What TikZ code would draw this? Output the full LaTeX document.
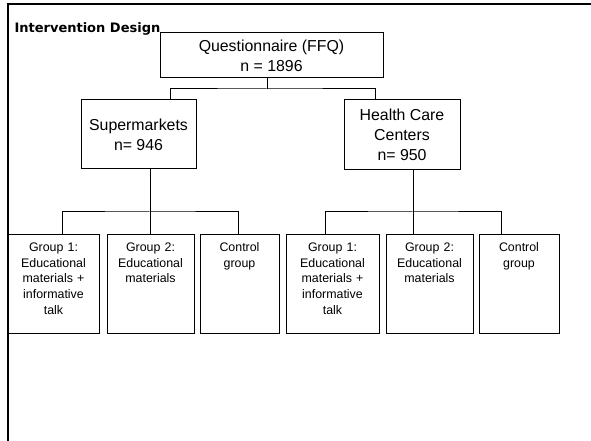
\documentclass[tikz,border=0pt]{standalone}
\usepackage{fontspec}
\setmainfont{Liberation Sans}
\newfontfamily\headfont{DejaVu Sans}

\tikzset{every picture/.style={line width=0.75pt}}
\tikzset{
  lvlbox/.style={draw, align=center, inner sep=0pt, font=\fontsize{11.9}{15}\selectfont},
  grpbox/.style={draw, anchor=north, align=center, inner sep=0pt, font=\fontsize{9.3}{11.8}\selectfont, text height=12.75pt, text depth=61.5pt},
}

\begin{document}
\begin{tikzpicture}[x=0.75pt,y=0.75pt,yscale=-1,xscale=1]
\useasboundingbox (0,0) rectangle (591,441);

%Frame
\draw [line width=1.5pt] (591,4.5) -- (7.5,4.5) -- (7.5,441) ;

%Flowchart: Process
\node [lvlbox, minimum width=167.25pt, minimum height=33.75pt] (ffq) at (271.5,55.5) {Questionnaire (FFQ)\\n = 1896};
%Flowchart: Process
\node [lvlbox, minimum width=86.25pt, minimum height=51.75pt] (sup) at (138.5,134.5) {Supermarkets\\n= 946};
%Flowchart: Process
\node [lvlbox, minimum width=87pt, minimum height=52.5pt] (hcc) at (402,135) {Health Care\\Centers\\n= 950};

%Flowchart: Process
\node [grpbox, text width=68.25pt] (sg1) at (53.5,234) {Group 1:\\Educational\\materials +\\informative\\talk};
\node [grpbox, text width=65.25pt] (sg2) at (150.5,234) {Group 2:\\Educational\\materials};
\node [grpbox, text width=59.25pt] (sg3) at (239.5,234) {Control\\group};
%Flowchart: Process
\node [grpbox, text width=69.75pt] (hg1) at (332.5,234) {Group 1:\\Educational\\materials +\\informative\\talk};
\node [grpbox, text width=65.25pt] (hg2) at (429.5,234) {Group 2:\\Educational\\materials};
\node [grpbox, text width=60pt] (hg3) at (519,234) {Control\\group};

%Connectors
\coordinate (jtop) at (267,89);
\coordinate (jsup) at (150,212);
\coordinate (jhcc) at (413,212);
\draw (ffq.south -| jtop) -- (jtop);
\draw (sup.north -| 170,0) |- (jtop) -| (hcc.north -| 375,0);
\draw (sup.south -| jsup) -- (jsup);
\draw (sg1.north -| 62,0) |- (jsup) -| (sg3.north -| 238,0);
\draw (sg2.north -| jsup) -- (jsup);
\draw (hcc.south -| jhcc) -- (jhcc);
\draw (hg1.north -| 325,0) |- (jhcc) -| (hg3.north -| 501,0);
\draw (hg2.north -| jhcc) -- (jhcc);

% Text Node
\node [anchor=base west, inner sep=0pt, font=\headfont\bfseries\fontsize{9.75}{12}\selectfont] (title) at (14,32.3) {Intervention Design};

\end{tikzpicture}
\end{document}
